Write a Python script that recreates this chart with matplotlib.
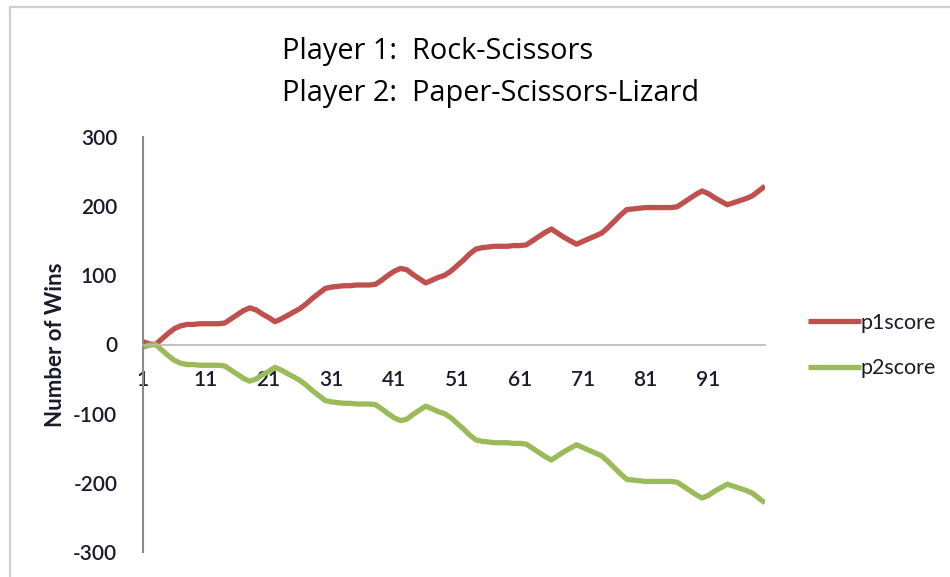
import matplotlib
matplotlib.use("Agg")
import matplotlib.pyplot as plt
from matplotlib.patches import Rectangle

# Cumulative wins per game (1..100)
games = list(range(1, 101))
p1score = [
    4, 1, 0, 8, 16, 23, 27, 29, 29, 30,
    30, 30, 30, 31, 37, 43, 49, 53, 50, 44,
    39, 33, 37, 42, 47, 52, 59, 67, 74, 81,
    83, 84, 85, 85, 86, 86, 86, 87, 93, 100,
    106, 110, 108, 101, 95, 89, 93, 97, 100, 106,
    114, 122, 131, 138, 140, 141, 142, 142, 142, 143,
    143, 144, 150, 156, 162, 167, 161, 155, 150, 145,
    149, 153, 157, 161, 169, 178, 187, 195, 196, 197,
    198, 198, 198, 198, 198, 199, 205, 211, 217, 222,
    218, 212, 207, 202, 205, 208, 211, 215, 222, 229,
]
p2score = [
    -4, -1, 0, -8, -16, -23, -27, -29, -29, -30,
    -30, -30, -30, -31, -37, -43, -49, -53, -50, -44,
    -39, -33, -37, -42, -47, -52, -59, -67, -74, -81,
    -83, -84, -85, -85, -86, -86, -86, -87, -93, -100,
    -106, -110, -108, -101, -95, -89, -93, -97, -100, -106,
    -114, -122, -131, -138, -140, -141, -142, -142, -142, -143,
    -143, -144, -150, -156, -162, -167, -161, -155, -150, -145,
    -149, -153, -157, -161, -169, -178, -187, -195, -196, -197,
    -198, -198, -198, -198, -198, -199, -205, -211, -217, -222,
    -218, -212, -207, -202, -205, -208, -211, -215, -222, -229,
]
x_ticks = [1, 11, 21, 31, 41, 51, 61, 71, 81, 91]
y_ticks = [-300, -200, -100, 0, 100, 200, 300]
series_names = ["p1score", "p2score"]
title_lines = ["Player 1:  Rock-Scissors", "Player 2:  Paper-Scissors-Lizard"]

W, H = 950, 577
fig = plt.figure(figsize=(W / 100, H / 100), dpi=100)
fig.patch.set_facecolor("white")

# chart-area border
fig.patches.append(Rectangle((10 / W, -0.05), 1.1, (H - 7) / H + 0.05,
                             transform=fig.transFigure, fill=False,
                             edgecolor="#d0d0d0", linewidth=1.6))

ax = fig.add_axes([143 / W, (H - 552) / H, (765 - 143) / W, (552 - 137) / H])
ax.set_facecolor("none")

red = "#C0504D"
green = "#9BBB59"
ax.plot(games, p1score, color=red, lw=3.8, label=series_names[0],
        solid_joinstyle="round", solid_capstyle="butt")
ax.plot(games, p2score, color=green, lw=3.8, label=series_names[1],
        solid_joinstyle="round", solid_capstyle="butt")

ax.set_xlim(1, 100)
ax.set_ylim(-300, 300)

for s in ["top", "right"]:
    ax.spines[s].set_visible(False)
ax.spines["bottom"].set_position(("data", 0))
ax.spines["bottom"].set_color("#b8b8b8")
ax.spines["bottom"].set_linewidth(1.2)
ax.spines["left"].set_color("#8c8c8c")
ax.spines["left"].set_linewidth(1.5)

ui_font = ["Lato", "DejaVu Sans"]
ink = "#1a1a2a"
tick_font = dict(family=ui_font, size=15, color=ink, weight="semibold")
ax.set_xticks(x_ticks)
ax.set_xticklabels([str(t) for t in x_ticks], **tick_font)
ax.set_yticks(y_ticks)
ax.set_yticklabels([str(t) for t in y_ticks], **tick_font)
ax.tick_params(axis="both", length=0)
ax.tick_params(axis="x", pad=18)
ax.tick_params(axis="y", pad=18.5)

ax.set_ylabel("Number of Wins", family=ui_font, size=16,
              weight="bold", color=ink, labelpad=5)

leg = ax.legend(loc="center left", bbox_to_anchor=(1.069, 0.4976), frameon=False,
                handlelength=2.45, handletextpad=0.0, labelspacing=1.2,
                borderaxespad=0, borderpad=0,
                prop=dict(family=ui_font, size=15.5))
for t in leg.get_texts():
    t.set_color(ink)

title_font = dict(family=["Open Sans", "DejaVu Sans"], size=20.8,
                  va="center", ha="left", color="black")
fig.text(282 / W, 1 - 52 / H, title_lines[0], **title_font)
fig.text(282 / W, 1 - 93 / H, title_lines[1], **title_font)

fig.savefig("out.png", dpi=100)
